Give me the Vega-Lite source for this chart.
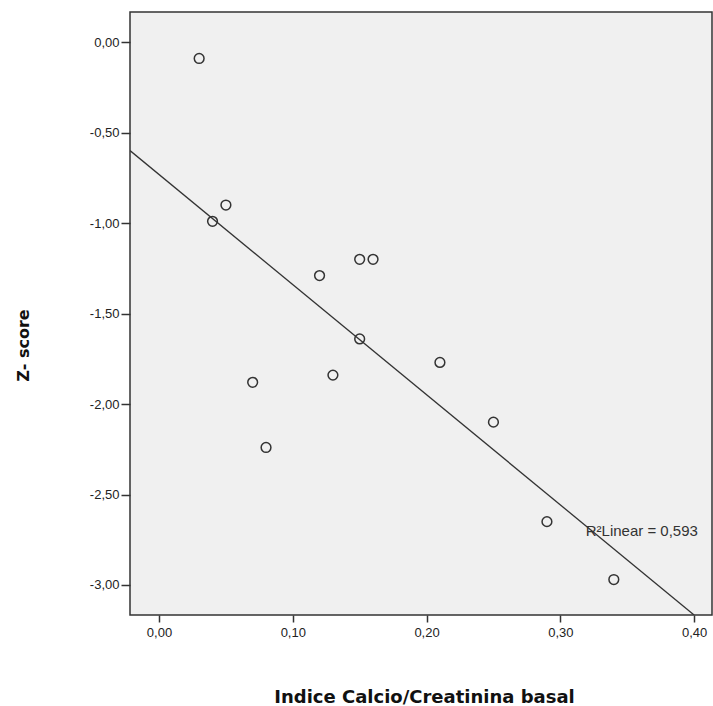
{
  "$schema": "https://vega.github.io/schema/vega-lite/v6.json",
  "width": 582,
  "height": 603,
  "autosize": {"type": "none"},
  "padding": {"left": 130, "top": 12, "right": 1, "bottom": 91},
  "background": "white",
  "config": {
    "locale": {"number": {"decimal": ",", "thousands": ".", "grouping": [3], "currency": ["", ""], "minus": "-"}},
    "view": {"fill": "#f0f0f0", "stroke": "#333333", "strokeWidth": 1.5},
    "font": "Liberation Sans",
    "axis": {
      "domain": false,
      "grid": false,
      "ticks": true,
      "tickColor": "#333333",
      "tickWidth": 1.5,
      "tickSize": 7,
      "labelFont": "Liberation Sans",
      "labelFontSize": 13,
      "labelColor": "#222222",
      "titleFont": "DejaVu Sans",
      "titleFontWeight": "bold",
      "titleColor": "#111111"
    }
  },
  "datasets": {
    "points": [
      {"ratio": 0.03, "z": -0.09},
      {"ratio": 0.05, "z": -0.90},
      {"ratio": 0.04, "z": -0.99},
      {"ratio": 0.12, "z": -1.29},
      {"ratio": 0.15, "z": -1.20},
      {"ratio": 0.16, "z": -1.20},
      {"ratio": 0.15, "z": -1.64},
      {"ratio": 0.07, "z": -1.88},
      {"ratio": 0.08, "z": -2.24},
      {"ratio": 0.13, "z": -1.84},
      {"ratio": 0.21, "z": -1.77},
      {"ratio": 0.25, "z": -2.10},
      {"ratio": 0.29, "z": -2.65},
      {"ratio": 0.34, "z": -2.97}
    ],
    "fit": [
      {"ratio": -0.0217, "z": -0.599},
      {"ratio": 0.40, "z": -3.166}
    ],
    "label": [
      {"ratio": 0.319, "z": -2.70, "text": "R²Linear = 0,593"}
    ]
  },
  "encoding": {
    "x": {
      "field": "ratio", "type": "quantitative",
      "scale": {"domain": [-0.0217, 0.4134], "nice": false, "zero": false},
      "axis": {
        "values": [0, 0.1, 0.2, 0.3, 0.4], "format": ".2f",
        "labelPadding": 4,
        "title": "Indice Calcio/Creatinina basal",
        "titleFontSize": 18,
        "titleX": 294, "titleY": 87, "titleBaseline": "alphabetic", "titleAlign": "center"
      }
    },
    "y": {
      "field": "z", "type": "quantitative",
      "scale": {"domain": [-3.166, 0.167], "nice": false, "zero": false},
      "axis": {
        "values": [0, -0.5, -1, -1.5, -2, -2.5, -3], "format": ".2f",
        "tickSize": 9,
        "labelPadding": 2,
        "title": "Z- score",
        "titleFontSize": 16,
        "titleAngle": -90,
        "titleX": -107, "titleY": 333, "titleBaseline": "middle", "titleAlign": "center"
      }
    }
  },
  "layer": [
    {
      "data": {"name": "fit"},
      "mark": {"type": "line", "color": "#333333", "strokeWidth": 1.3, "clip": true}
    },
    {
      "data": {"name": "points"},
      "mark": {"type": "point", "shape": "circle", "filled": false, "color": "#333333", "strokeWidth": 1.5, "size": 95, "opacity": 1}
    },
    {
      "data": {"name": "label"},
      "mark": {"type": "text", "align": "left", "baseline": "middle", "fontSize": 15, "color": "#333333", "font": "Liberation Sans"},
      "encoding": {"text": {"field": "text"}}
    }
  ]
}
